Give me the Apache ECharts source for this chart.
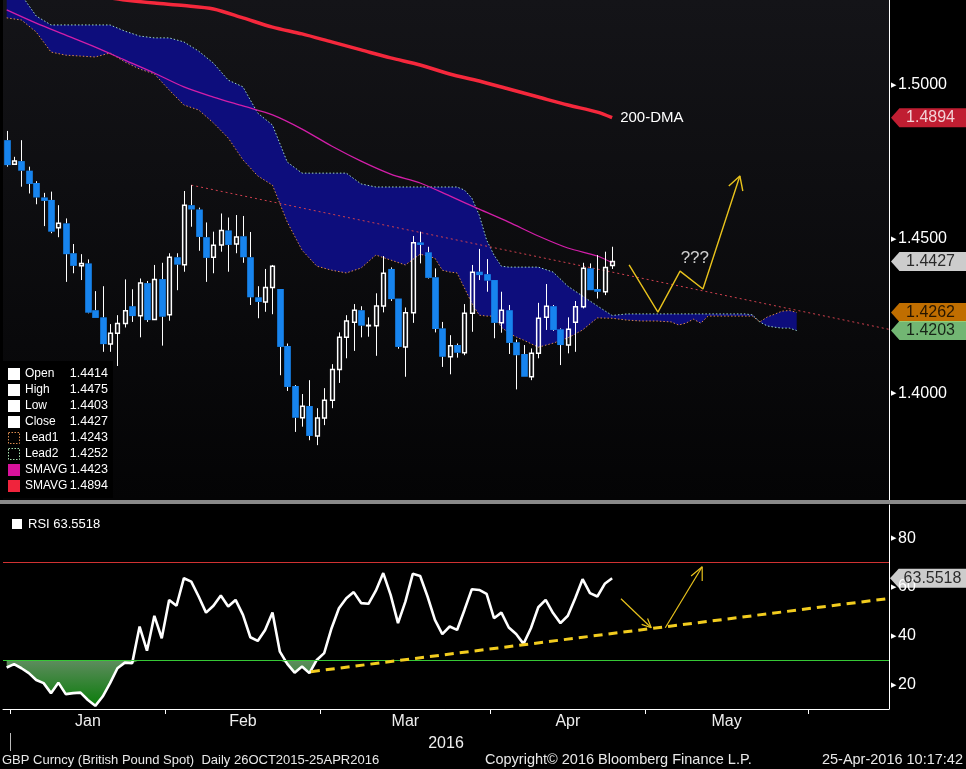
<!DOCTYPE html>
<html><head><meta charset="utf-8">
<script src="https://cdn.jsdelivr.net/npm/echarts@6/dist/echarts.min.js"></script>
<style>html,body{margin:0;padding:0;background:#000;}#c{width:966px;height:769px;}</style>
</head><body><div id="c"></div>
<script>
// ---------- categories: trading days from 31-Dec-2015 (120 weekdays) ----------
const nDays = 120;
const dates = [];
(function () {
  const d = new Date(Date.UTC(2015, 11, 31));
  while (dates.length < nDays) {
    const wd = d.getUTCDay();
    if (wd !== 0 && wd !== 6) dates.push(d.toISOString().slice(0, 10));
    d.setUTCDate(d.getUTCDate() + 1);
  }
})();

// ---------- OHLC (GBP spot, daily) ----------
const open = [1.4821,1.4743,1.4753,1.4722,1.4682,1.4635,1.4627,1.4537,1.4551,1.4454,
  1.4413,1.4421,1.4269,1.4246,1.4159,1.4194,1.4226,1.4282,1.4251,1.4357,
  1.4239,1.4370,1.4254,1.4441,1.4417,1.4610,1.4596,1.4506,1.4441,1.4481,
  1.4528,1.4484,1.4509,1.4441,1.4311,1.4296,1.4343,1.4338,1.4153,1.4023,
  1.3920,1.3958,1.3861,1.3919,1.3977,1.4077,1.4181,1.4230,1.4269,1.4219,
  1.4219,1.4283,1.4403,1.4307,1.4150,1.4261,1.4489,1.4457,1.4376,1.4210,
  1.4118,1.4156,1.4131,1.4259,1.4394,1.4386,1.4367,1.4228,1.4269,1.4165,
  1.4127,1.4053,1.4129,1.4246,1.4282,1.4207,1.4156,1.4230,1.4280,1.4405,
  1.4338,1.4329,1.4414];
const high = [1.4851,1.4767,1.4821,1.4735,1.4688,1.4650,1.4654,1.4610,1.4567,1.4484,
  1.4451,1.4434,1.4331,1.4347,1.4224,1.4253,1.4369,1.4337,1.4372,1.4364,
  1.4416,1.4423,1.4454,1.4454,1.4656,1.4675,1.4602,1.4554,1.4524,1.4583,
  1.4570,1.4578,1.4575,1.4523,1.4347,1.4403,1.4416,1.4338,1.4161,1.4026,
  1.3997,1.4042,1.3951,1.4016,1.4094,1.4197,1.4253,1.4289,1.4282,1.4246,
  1.4324,1.4445,1.4408,1.4307,1.4278,1.4510,1.4524,1.4475,1.4405,1.4231,
  1.4188,1.4161,1.4289,1.4416,1.4468,1.4435,1.4367,1.4329,1.4286,1.4174,
  1.4156,1.4145,1.4293,1.4354,1.4286,1.4210,1.4246,1.4299,1.4423,1.4421,
  1.4448,1.4459,1.4475];
const low = [1.4735,1.4742,1.4670,1.4648,1.4613,1.4542,1.4519,1.4506,1.4361,1.4389,
  1.4367,1.4259,1.4244,1.4134,1.4134,1.4088,1.4213,1.4231,1.4181,1.4231,
  1.4238,1.4154,1.4235,1.4334,1.4394,1.4540,1.4462,1.4361,1.4389,1.4459,
  1.4394,1.4454,1.4423,1.4286,1.4243,1.4264,1.4256,1.4058,1.4007,1.3874,
  1.3891,1.3847,1.3831,1.3896,1.3951,1.4033,1.4113,1.4137,1.4181,1.4183,
  1.4121,1.4262,1.4299,1.4144,1.4053,1.4228,1.4421,1.4372,1.4197,1.4085,
  1.4061,1.4115,1.4123,1.4199,1.4367,1.4329,1.4178,1.4196,1.4127,1.4012,
  1.4053,1.4042,1.4113,1.4205,1.4202,1.4091,1.4129,1.4134,1.4275,1.4334,
  1.4307,1.4318,1.4403];
const close = [1.4740,1.4753,1.4722,1.4679,1.4635,1.4624,1.4524,1.4551,1.4451,1.4413,
  1.4421,1.4261,1.4244,1.4159,1.4194,1.4226,1.4267,1.4250,1.4357,1.4237,
  1.4369,1.4248,1.4441,1.4417,1.4610,1.4596,1.4507,1.4439,1.4480,1.4528,
  1.4481,1.4507,1.4441,1.4311,1.4296,1.4343,1.4412,1.4150,1.4020,1.3920,
  1.3957,1.3861,1.3919,1.3977,1.4077,1.4181,1.4234,1.4269,1.4219,1.4220,
  1.4283,1.4389,1.4305,1.4150,1.4261,1.4488,1.4481,1.4374,1.4208,1.4118,
  1.4154,1.4131,1.4259,1.4392,1.4383,1.4365,1.4228,1.4269,1.4163,1.4123,
  1.4053,1.4129,1.4243,1.4282,1.4205,1.4156,1.4207,1.4280,1.4405,1.4334,
  1.4329,1.4408,1.4427];

// ---------- Ichimoku leading spans (trading-day index, value) ----------
const cloudIdx = [0,2,4,6,8,10,12,14,16,18,20,22,24,26,28,30,32,34,36,38,40,42,44,46,48,50,52,54,56,58,
  59,60,61,62,63,64,65,66,67,68,69,70,72,74,76,78,80,82,84,86,88,90,91,92,93,94,95,96,98,100,101,102,103,104,105,106,107];
const lead1 = [1.5218,1.5211,1.5172,1.5107,1.5097,1.5094,1.5091,1.5104,1.5075,1.5052,1.5036,1.4984,1.4935,1.4919,1.4877,1.4828,1.4757,1.4705,1.4675,1.4555,1.4464,1.4412,1.4399,1.4390,1.4406,1.4448,1.4432,1.4416,1.4451,1.4438,
  1.4399,1.4393,1.4390,1.4341,1.4292,1.4253,1.4250,1.4250,1.4214,1.4195,1.4182,1.4172,1.4149,1.4162,1.4179,1.4205,1.4244,1.4243,1.4237,1.4234,1.4234,1.4231,1.4221,1.4227,1.4240,1.4227,1.4250,1.4250,1.4250,1.4250,1.4250,1.4231,1.4247,1.4256,1.4266,1.4268,1.4262];
const lead2 = [1.5341,1.5292,1.5224,1.5195,1.5195,1.5195,1.5195,1.5195,1.5175,1.5159,1.5153,1.5153,1.5140,1.5110,1.5071,1.5016,1.4994,1.4909,1.4870,1.4750,1.4714,1.4714,1.4714,1.4714,1.4679,1.4669,1.4669,1.4669,1.4669,1.4669,
  1.4669,1.4669,1.4669,1.4659,1.4633,1.4578,1.4497,1.4448,1.4412,1.4409,1.4409,1.4409,1.4409,1.4393,1.4347,1.4315,1.4283,1.4252,1.4257,1.4257,1.4257,1.4257,1.4257,1.4257,1.4257,1.4257,1.4257,1.4257,1.4257,1.4257,1.4254,1.4231,1.4218,1.4214,1.4211,1.4211,1.4203];

// ---------- moving averages (trading-day index, value) ----------
const sma100Idx = [0,4,8,12,16,20,24,28,32,36,40,44,48,52,56,60,64,68,72,76,80,82];
const sma100Val = [1.5244,1.5201,1.5162,1.5123,1.5081,1.5039,1.4994,1.4961,1.4932,1.4903,1.4857,1.4802,1.4753,1.4711,1.4682,1.4640,1.4597,1.4555,1.4510,1.4471,1.4445,1.4423];
const sma200Idx = [14,16,20,24,28,32,36,40,44,48,52,56,60,64,68,72,76,80,82];
const sma200Val = [1.5283,1.5276,1.5266,1.5258,1.5247,1.5218,1.5188,1.5166,1.5140,1.5114,1.5088,1.5065,1.5036,1.5013,1.4987,1.4961,1.4935,1.4912,1.4894];

// ---------- RSI ----------
const rsi = [27.0,28.4,26.7,24.7,21.9,20.6,16.5,20.8,16.1,16.5,16.7,13.7,11.3,15.1,20.6,26.7,29.0,28.8,43.8,33.9,
  48.2,39.0,54.7,52.3,63.6,62.2,56.1,49.5,52.3,56.5,52.0,54.7,48.6,39.4,37.9,42.4,49.5,33.5,28.5,24.9,
  27.4,24.7,30.1,32.9,43.1,51.3,55.4,57.9,53.4,53.1,58.5,65.7,56.8,45.2,54.0,65.4,64.5,56.1,46.5,40.7,
  43.8,42.4,50.6,59.1,58.8,57.2,47.2,49.5,43.4,40.7,36.7,43.1,51.7,54.7,49.3,45.2,48.2,55.4,63.2,57.5,
  56.1,61.3,63.5518];
const rsiUpper = 70, rsiLower = 30;

// ---------- hand-drawn annotations (x = trading-day position) ----------
const trendPrice = [[25, 1.4675], [119.5, 1.4207]];
const arrowPrice = [[84.3, 1.4416], [88.2, 1.4263], [91.2, 1.4396], [94.3, 1.4338], [99.3, 1.4705]];
const arrowPriceHead = [[97.8, 1.4672], [99.3, 1.4705], [99.7, 1.4656]];
const questionPos = [93.2, 1.4438];
const trendRsi = [[41.2, 25.3], [119.5, 55.3]];
const arrowRsiA = [[83.2, 55.2], [87.3, 43.3]];
const arrowRsiAHead = [[86.8, 47.1], [87.3, 43.3], [86.0, 44.7]];
const arrowRsiB = [[89.2, 43.3], [94.2, 68.3]];
const arrowRsiBHead = [[92.7, 64.5], [94.2, 68.3], [94.2, 62.5]];

// ---------- axis ticks / labels ----------
const priceTicks = [1.40, 1.45, 1.50];
const rsiTicks = [20, 40, 60, 80];
const months = ['Jan', 'Feb', 'Mar', 'Apr', 'May'];
const monthBounds = [0.5, 21.5, 42.5, 65.5, 86.5, 108.5];
const yearBounds = [0.5];
const yearLabel = '2016';

// ---------- derived ----------
const L = close.length - 1;
const k82 = cloudIdx.indexOf(L);
const monthMids = months.map((m, i) => (monthBounds[i] + monthBounds[i + 1]) / 2);
const FONT = "'Liberation Sans', Arial, sans-serif";
const NARROW = "'Liberation Sans Narrow', 'Liberation Sans', Arial, sans-serif";
const pMin = 1.3653, pMax = 1.5276, rMin = 10, rMax = 93.6;
const xMin = -0.5, xMax = nDays - 0.5;

const chart = echarts.init(document.getElementById('c'), null, { renderer: 'canvas', width: 966, height: 769 });

function lineSeries(data, xi, yi, style, extra) {
  return Object.assign({ type: 'line', xAxisIndex: xi, yAxisIndex: yi, data: data, symbol: 'none',
    silent: true, lineStyle: style, animation: false }, extra || {});
}

const cloudSeries = {
  type: 'custom', xAxisIndex: 1, yAxisIndex: 0, z: 1, silent: true, clip: true,
  data: [[cloudIdx[0], lead1[0]]],
  renderItem: function (params, api) {
    const pts = [];
    for (let k = 0; k < cloudIdx.length; k++) pts.push(api.coord([cloudIdx[k], lead1[k]]));
    for (let k = cloudIdx.length - 1; k >= 0; k--) pts.push(api.coord([cloudIdx[k], lead2[k]]));
    return { type: 'polygon', shape: { points: pts }, style: { fill: '#0d0d7c' } };
  }
};

const candleSeries = {
  type: 'custom', xAxisIndex: 0, yAxisIndex: 0, z: 5, silent: true,
  data: close.map((c, i) => [dates[i], open[i], c, low[i], high[i]]),
  encode: { x: 0, y: [1, 2, 3, 4] },
  renderItem: function (params, api) {
    const o = api.value(1), c = api.value(2), lo = api.value(3), hi = api.value(4);
    const pO = api.coord([api.value(0), o]);
    const pC = api.coord([api.value(0), c]);
    const pL = api.coord([api.value(0), lo]);
    const pH = api.coord([api.value(0), hi]);
    const band = api.size([1, 0])[0];
    const x = Math.round(pO[0]) + 0.5;
    const top = Math.min(pO[1], pC[1]), bot = Math.max(pO[1], pC[1]);
    const up = c >= o;
    const children = [
      { type: 'line', shape: { x1: x, y1: pH[1], x2: x, y2: top }, style: { stroke: '#ffffff', lineWidth: 1 } },
      { type: 'line', shape: { x1: x, y1: bot, x2: x, y2: pL[1] }, style: { stroke: '#ffffff', lineWidth: 1 } }
    ];
    if (up) {
      const w = band * 0.5;
      children.push({ type: 'rect', shape: { x: x - w / 2, y: top, width: w, height: Math.max(bot - top, 0.5) },
        style: { fill: 'rgba(0,0,0,0)', stroke: '#ffffff', lineWidth: 1.5 } });
    } else {
      const w = band * 0.9;
      children.push({ type: 'rect', shape: { x: x - w / 2, y: top, width: w, height: Math.max(bot - top, 1) },
        style: { fill: '#1784ee' } });
    }
    return { type: 'group', children: children };
  }
};

const badgeShape = 'path://M0,10 L9,0 L80,0 L80,20 L9,20 Z';
const badges = [
  { v: sma200Val[sma200Val.length - 1], bg: '#f0263e', fg: '#ffffff' },
  { v: close[L], bg: '#ffffff', fg: '#000000' },
  { v: lead1[lead1.length - 1], bg: '#f08a00', fg: '#000000' },
  { v: lead2[lead2.length - 1], bg: '#8ee490', fg: '#000000' }
];

const legendRows = [
  ['Open', open[L], '#ffffff', 'fill'],
  ['High', high[L], '#ffffff', 'fill'],
  ['Low', low[L], '#ffffff', 'fill'],
  ['Close', close[L], '#ffffff', 'fill'],
  ['Lead1', lead1[k82], '#d98a4e', 'dot'],
  ['Lead2', lead2[k82], '#a8e0b0', 'dot'],
  ['SMAVG', sma100Val[sma100Val.length - 1], '#d8129c', 'fill'],
  ['SMAVG', sma200Val[sma200Val.length - 1], '#f0243c', 'fill']
];
const graphics = [
  { type: 'rect', shape: { x: 0, y: 500, width: 966, height: 4 }, style: { fill: '#8a8a8a' }, z: 50 },
  { type: 'rect', shape: { x: 0, y: 361, width: 113, height: 137 }, style: { fill: '#000000' }, z: 50 }
];
legendRows.forEach((r, k) => {
  const y = 368 + 16 * k;
  graphics.push(r[3] === 'fill'
    ? { type: 'rect', z: 51, shape: { x: 8, y: y, width: 12, height: 12 }, style: { fill: r[2] } }
    : { type: 'rect', z: 51, shape: { x: 8.5, y: y + 0.5, width: 11, height: 11 }, style: { fill: 'none', stroke: r[2], lineWidth: 1, lineDash: [1.5, 1.5] } });
  graphics.push({ type: 'text', z: 51, x: 25, y: y + 6, style: { text: r[0], fill: '#ffffff', font: '12px ' + FONT, verticalAlign: 'middle' } });
  graphics.push({ type: 'text', z: 51, x: 108, y: y + 6, style: { text: r[1].toFixed(4), fill: '#ffffff', font: '12.5px ' + FONT, verticalAlign: 'middle', align: 'right' } });
});
graphics.push(
  { type: 'rect', z: 51, shape: { x: 12, y: 519, width: 10, height: 10 }, style: { fill: '#ffffff' } },
  { type: 'text', z: 51, x: 28, y: 524, style: { text: 'RSI ' + rsi[L].toFixed(4), fill: '#ffffff', font: '13px ' + FONT, verticalAlign: 'middle' } },
  { type: 'text', z: 51, x: 2, y: 760, style: { text: 'GBP Curncy (British Pound Spot)  Daily 26OCT2015-25APR2016', fill: '#e8e8e8', font: '13px ' + NARROW, verticalAlign: 'middle' } },
  { type: 'text', z: 51, x: 485, y: 760, style: { text: 'Copyright\u00A9 2016 Bloomberg Finance L.P.', fill: '#e8e8e8', font: '14.5px ' + NARROW, verticalAlign: 'middle' } },
  { type: 'text', z: 51, x: 963, y: 760, style: { text: '25-Apr-2016 10:17:42', fill: '#e8e8e8', font: '14.5px ' + NARROW, verticalAlign: 'middle', align: 'right' } }
);

const option = {
  backgroundColor: '#000000',
  animation: false,
  grid: [
    { left: 3, top: 0, width: 886, height: 500, show: true, borderWidth: 0,
      backgroundColor: { type: 'linear', x: 0, y: 0, x2: 0, y2: 1, colorStops: [{ offset: 0, color: '#141418' }, { offset: 1, color: '#040405' }] } },
    { left: 3, top: 505, width: 886, height: 204 },
    { left: 891, top: 0, width: 75, height: 500 },
    { left: 891, top: 505, width: 75, height: 204 }
  ],
  xAxis: [
    { type: 'category', gridIndex: 0, data: dates, boundaryGap: true, show: false, position: 'bottom' },
    { type: 'value', gridIndex: 0, min: xMin, max: xMax, show: false, position: 'bottom' },
    { type: 'category', gridIndex: 1, data: dates, boundaryGap: true, position: 'bottom',
      axisLine: { show: true, onZero: false, lineStyle: { color: '#ffffff', width: 1 } }, axisTick: { show: false }, axisLabel: { show: false } },
    { type: 'value', gridIndex: 1, min: xMin, max: xMax, position: 'bottom', splitLine: { show: false },
      axisLine: { show: false, onZero: false },
      axisTick: { show: true, customValues: monthBounds, length: 5, lineStyle: { color: '#ffffff' } },
      axisLabel: { show: true, customValues: monthMids, formatter: v => months[monthMids.indexOf(v)] || '',
        color: '#eeeeee', fontSize: 16, fontFamily: NARROW, margin: 5 },
      name: yearLabel, nameLocation: 'middle', nameGap: 27,
      nameTextStyle: { color: '#eeeeee', fontSize: 16, fontFamily: NARROW } },
    { type: 'value', gridIndex: 2, min: 0, max: 1, show: false },
    { type: 'value', gridIndex: 3, min: 0, max: 1, show: false },
    { type: 'value', gridIndex: 1, min: xMin, max: xMax, position: 'bottom', offset: 24, splitLine: { show: false },
      axisLine: { show: false, onZero: false }, axisLabel: { show: false },
      axisTick: { show: true, customValues: yearBounds, length: 18, lineStyle: { color: '#bbbbbb' } } }
  ],
  yAxis: [
    { type: 'value', gridIndex: 0, position: 'right', min: pMin, max: pMax,
      axisLine: { show: true, onZero: false, lineStyle: { color: '#ffffff' } }, axisTick: { show: false }, splitLine: { show: false },
      axisLabel: { customValues: priceTicks, margin: 2, formatter: v => '{a|\u25B6}{b|' + v.toFixed(4) + '}',
        rich: { a: { fontSize: 7, color: '#ffffff', padding: [0, 2, 0, 0] }, b: { fontSize: 16, color: '#ffffff', fontFamily: FONT } } } },
    { type: 'value', gridIndex: 1, position: 'right', min: rMin, max: rMax,
      axisLine: { show: true, onZero: false, lineStyle: { color: '#ffffff' } }, axisTick: { show: false }, splitLine: { show: false },
      axisLabel: { customValues: rsiTicks, margin: 2, formatter: v => '{a|\u25B6}{b|' + v + '}',
        rich: { a: { fontSize: 7, color: '#ffffff', padding: [0, 2, 0, 0] }, b: { fontSize: 16, color: '#ffffff', fontFamily: FONT } } } },
    { type: 'value', gridIndex: 2, min: pMin, max: pMax, show: false },
    { type: 'value', gridIndex: 3, min: rMin, max: rMax, show: false }
  ],
  series: [
    cloudSeries,
    lineSeries(cloudIdx.map((x, k) => [x, lead1[k]]), 1, 0, { color: '#d98a4e', width: 1, type: [1.5, 2] }, { z: 2 }),
    lineSeries(cloudIdx.map((x, k) => [x, lead2[k]]), 1, 0, { color: '#9fd8c8', width: 1, type: [1.5, 2] }, { z: 2 }),
    lineSeries(sma100Idx.map((x, k) => [x, sma100Val[k]]), 1, 0, { color: '#d21ea8', width: 1.3 }, { z: 3, smooth: 0.3 }),
    lineSeries(sma200Idx.map((x, k) => [x, sma200Val[k]]), 1, 0, { color: '#f5283c', width: 3.5 },
      { z: 3, smooth: 0.3, endLabel: { show: true, formatter: '200-DMA', color: '#ffffff', fontSize: 15, fontFamily: FONT, distance: 8 } }),
    lineSeries(trendPrice, 1, 0, { color: '#d0404e', width: 1, type: [2, 3] }, { z: 4 }),
    candleSeries,
    lineSeries(arrowPrice, 1, 0, { color: '#e8c21c', width: 1.4 }, { z: 6 }),
    lineSeries(arrowPriceHead, 1, 0, { color: '#e8c21c', width: 1.4 }, { z: 6 }),
    { type: 'scatter', xAxisIndex: 1, yAxisIndex: 0, silent: true, z: 6, symbol: 'circle', symbolSize: 1,
      itemStyle: { color: 'rgba(0,0,0,0)' },
      data: [questionPos], label: { show: true, position: 'inside', formatter: '???', color: '#ffffff', fontSize: 17, fontFamily: FONT } },
    // RSI panel
    lineSeries(rsi.map(v => Math.min(v, rsiLower)), 2, 1, { opacity: 0 }, { stack: 'os', z: 1 }),
    lineSeries(rsi.map(v => rsiLower - Math.min(v, rsiLower)), 2, 1, { opacity: 0 },
      { stack: 'os', z: 1, areaStyle: { opacity: 1, color: { type: 'linear', x: 0, y: 0, x2: 0, y2: 1,
        colorStops: [{ offset: 0, color: '#5e8c5e' }, { offset: 1, color: '#0a7c0a' }] } } }),
    lineSeries(rsi, 2, 1, { color: '#ffffff', width: 2.6 }, { z: 4,
      markLine: { silent: true, symbol: 'none', label: { show: false },
        data: [{ yAxis: rsiUpper, lineStyle: { color: '#d03232', width: 1, type: 'solid' } },
               { yAxis: rsiLower, lineStyle: { color: '#36c836', width: 1, type: 'solid' } }] } }),
    lineSeries(trendRsi, 3, 1, { color: '#f2cc1e', width: 3, type: [9, 6] }, { z: 5 }),
    lineSeries(arrowRsiA, 3, 1, { color: '#e8c21c', width: 1.2 }, { z: 6 }),
    lineSeries(arrowRsiAHead, 3, 1, { color: '#e8c21c', width: 1.2 }, { z: 6 }),
    lineSeries(arrowRsiB, 3, 1, { color: '#e8c21c', width: 1.2 }, { z: 6 }),
    lineSeries(arrowRsiBHead, 3, 1, { color: '#e8c21c', width: 1.2 }, { z: 6 }),
    // value badges on the right axis
    { type: 'scatter', xAxisIndex: 4, yAxisIndex: 2, silent: true, z: 10, symbol: badgeShape, symbolSize: [75, 19], symbolKeepAspect: false,
      data: badges.map(b => ({ value: [0.5, b.v], itemStyle: { color: b.bg },
        label: { show: true, position: 'inside', formatter: b.v.toFixed(4), color: b.fg, fontSize: 16, fontFamily: FONT, offset: [2, 0] } })) },
    { type: 'scatter', xAxisIndex: 5, yAxisIndex: 3, silent: true, z: 10, symbol: badgeShape, symbolSize: [77, 19], symbolKeepAspect: false,
      data: [{ value: [0.5, rsi[L]], itemStyle: { color: '#ffffff' },
        label: { show: true, position: 'inside', formatter: rsi[L].toFixed(4), color: '#000000', fontSize: 16, fontFamily: FONT, offset: [4, 0] } }] }
  ],
  graphic: graphics
};
chart.setOption(option);
</script></body></html>
